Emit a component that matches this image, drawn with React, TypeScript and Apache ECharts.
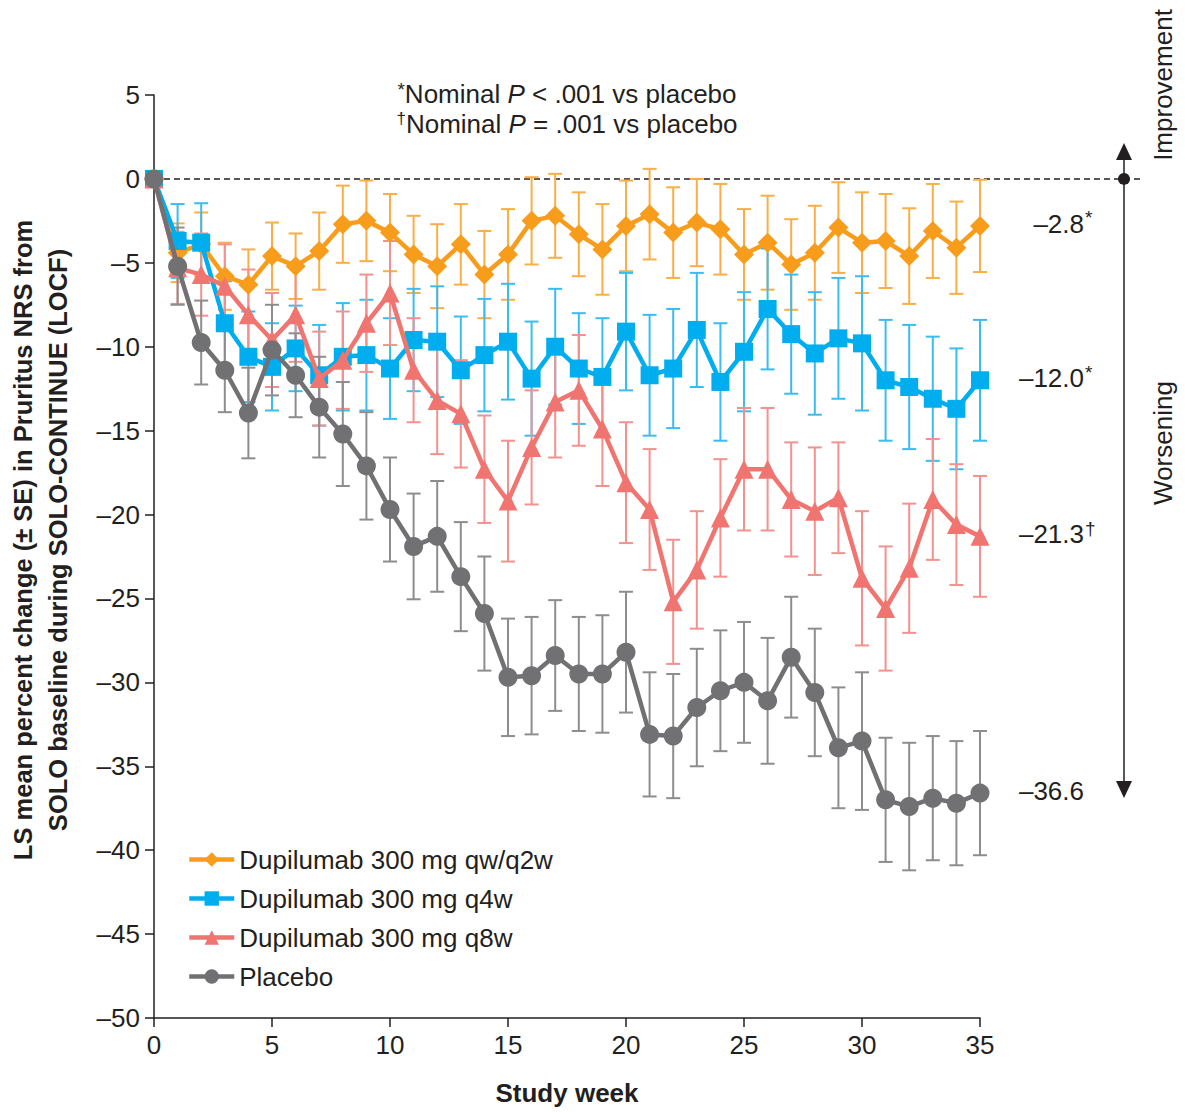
import React, { useEffect, useRef } from 'react';
import * as echarts from 'echarts';

const weeks = [0, 1, 2, 3, 4, 5, 6, 7, 8, 9, 10, 11, 12, 13, 14, 15, 16, 17, 18, 19, 20, 21, 22, 23, 24, 25, 26, 27, 28, 29, 30, 31, 32, 33, 34, 35];

const q2wMean = [0, -4.4, -3.9, -5.8, -6.3, -4.6, -5.2, -4.3, -2.7, -2.5, -3.2, -4.5, -5.2, -3.9, -5.7, -4.5, -2.5, -2.2, -3.3, -4.2, -2.8, -2.1, -3.2, -2.6, -3.0, -4.5, -3.8, -5.1, -4.4, -2.9, -3.8, -3.7, -4.6, -3.1, -4.1, -2.8];
const q2wSE = [0, 1.75, 1.9, 2.0, 2.1, 2.0, 1.95, 2.3, 2.3, 2.4, 2.3, 2.3, 2.5, 2.4, 2.6, 2.7, 2.6, 2.5, 2.5, 2.7, 2.7, 2.7, 2.7, 2.6, 2.7, 2.7, 2.8, 2.7, 2.8, 2.7, 3.0, 2.8, 2.85, 2.8, 2.75, 2.75];

const q4wMean = [0, -3.7, -3.8, -8.6, -10.6, -11.2, -10.1, -11.7, -10.6, -10.5, -11.3, -9.6, -9.7, -11.4, -10.5, -9.7, -11.9, -10.0, -11.3, -11.8, -9.1, -11.7, -11.3, -9.0, -12.1, -10.3, -7.75, -9.25, -10.4, -9.5, -9.8, -12.0, -12.4, -13.1, -13.7, -12.0];
const q4wSE = [0, 2.2, 2.35, 2.5, 2.7, 2.6, 2.55, 3.0, 3.2, 3.3, 3.0, 3.05, 3.3, 3.2, 3.35, 3.45, 3.4, 3.45, 3.3, 3.5, 3.5, 3.6, 3.55, 3.4, 3.5, 3.55, 3.6, 3.55, 3.65, 3.6, 4.0, 3.6, 3.7, 3.7, 3.6, 3.6];

const q8wMean = [0, -5.3, -5.7, -6.4, -8.1, -9.6, -8.1, -11.9, -10.8, -8.6, -6.8, -11.4, -13.2, -14.0, -17.3, -19.2, -16.0, -13.3, -12.6, -14.9, -18.1, -19.7, -25.2, -23.3, -20.2, -17.3, -17.3, -19.1, -19.8, -19.0, -23.8, -25.6, -23.2, -19.1, -20.6, -21.3];
const q8wSE = [0, 2.15, 2.45, 2.5, 2.7, 2.8, 2.8, 2.8, 2.9, 2.9, 3.1, 3.1, 3.2, 3.2, 3.2, 3.6, 3.4, 3.3, 3.3, 3.4, 3.6, 3.6, 3.7, 3.5, 3.5, 3.65, 3.65, 3.4, 3.8, 3.3, 4.0, 3.7, 3.85, 3.6, 3.6, 3.6];

const placeboMean = [0, -5.2, -9.75, -11.4, -13.95, -10.2, -11.7, -13.6, -15.2, -17.1, -19.7, -21.9, -21.3, -23.7, -25.9, -29.7, -29.6, -28.4, -29.5, -29.5, -28.2, -33.1, -33.2, -31.5, -30.5, -30.0, -31.1, -28.5, -30.6, -33.9, -33.5, -37.0, -37.4, -36.9, -37.2, -36.6];
const placeboSE = [0, 2.3, 2.5, 2.5, 2.7, 2.7, 2.5, 3.0, 3.1, 3.2, 3.1, 3.15, 3.3, 3.25, 3.4, 3.5, 3.5, 3.3, 3.4, 3.5, 3.6, 3.7, 3.7, 3.5, 3.6, 3.6, 3.75, 3.6, 3.8, 3.6, 4.1, 3.7, 3.8, 3.7, 3.7, 3.7];

const seriesNames = ['Dupilumab 300 mg qw/q2w', 'Dupilumab 300 mg q4w', 'Dupilumab 300 mg q8w', 'Placebo'];
const means = [q2wMean, q4wMean, q8wMean, placeboMean];
const ses = [q2wSE, q4wSE, q8wSE, placeboSE];
const lineColors = ['#F89C1C', '#00AEEF', '#F07570', '#717173'];
const barColors = ['#FAAE45', '#3BBCF0', '#F4918C', '#8D8D8F'];
const symbols = ['diamond', 'rect', 'triangle', 'circle'];
const symbolSizes = [20, 18, 19, 19];
const lineZ = [3, 4, 5, 6];
const endValueLabels = ['\u20132.8', '\u201312.0', '\u201321.3', '\u201336.6'];
const endMarks = ['*', '*', '\u2020', ''];

const yTitle = 'LS mean percent change (\u00B1 SE) in Pruritus NRS from\nSOLO baseline during SOLO-CONTINUE (LOCF)';
const xTitle = 'Study week';

const FONT = 'Arial, "Liberation Sans", Helvetica, sans-serif';
const INK = '#231F20';

export default function App() {
  const ref = useRef<HTMLDivElement>(null);

  useEffect(() => {
    if (!ref.current) return;
    const chart = echarts.init(ref.current, undefined, { renderer: 'svg' });

    const lineSeries = seriesNames.map((name, k) => ({
      type: 'line',
      name,
      data: weeks.map((w, i) => [w, means[k][i]]),
      symbol: symbols[k],
      symbolSize: symbolSizes[k],
      showAllSymbol: true,
      lineStyle: { width: 4.5, color: lineColors[k] },
      itemStyle: { color: lineColors[k] },
      z: lineZ[k],
      silent: true,
    }));

    const errSeries = seriesNames.map((name, k) => ({
      type: 'custom',
      name: 'se' + k,
      data: weeks.map((w, i) => [w, means[k][i] - ses[k][i], means[k][i] + ses[k][i]]),
      encode: { x: 0, y: [1, 2] },
      z: 2,
      silent: true,
      renderItem: (params: any, api: any) => {
        const x = api.value(0);
        const lo = api.value(1);
        const hi = api.value(2);
        if (hi - lo <= 0) return { type: 'group', children: [] };
        const p1 = api.coord([x, hi]);
        const p2 = api.coord([x, lo]);
        const style = { stroke: barColors[k], lineWidth: 2 };
        const cap = 7;
        return {
          type: 'group',
          children: [
            { type: 'line', shape: { x1: p1[0], y1: p1[1], x2: p2[0], y2: p2[1] }, style },
            { type: 'line', shape: { x1: p1[0] - cap, y1: p1[1], x2: p1[0] + cap, y2: p1[1] }, style },
            { type: 'line', shape: { x1: p2[0] - cap, y1: p2[1], x2: p2[0] + cap, y2: p2[1] }, style },
          ],
        };
      },
    }));

    chart.setOption({
      animation: false,
      backgroundColor: '#ffffff',
      textStyle: { fontFamily: FONT, color: INK },
      grid: { left: 154, right: 205, top: 95, bottom: 94, containLabel: false },
      legend: {
        data: seriesNames,
        orient: 'vertical',
        left: 182,
        top: 841,
        itemWidth: 45,
        itemHeight: 18,
        itemGap: 12,
        lineStyle: { width: 4.5 },
        textStyle: { fontSize: 26, color: INK, fontFamily: FONT, lineHeight: 27 },
        selectedMode: false,
      },
      xAxis: {
        type: 'value',
        min: 0,
        max: 35,
        interval: 5,
        name: xTitle,
        nameLocation: 'middle',
        nameGap: 62,
        nameTextStyle: { fontSize: 26, fontWeight: 'bold', color: INK, fontFamily: FONT },
        axisLine: { show: true, onZero: false, lineStyle: { color: INK, width: 1.5 } },
        axisTick: { show: true, length: 9, lineStyle: { color: INK, width: 1.5 } },
        axisLabel: { fontSize: 26, color: INK, margin: 14, fontFamily: FONT },
        splitLine: { show: false },
      },
      yAxis: {
        type: 'value',
        min: -50,
        max: 5,
        interval: 5,
        axisLine: { show: true, onZero: false, lineStyle: { color: INK, width: 1.5 } },
        axisTick: { show: true, length: 9, lineStyle: { color: INK, width: 1.5 } },
        axisLabel: {
          fontSize: 26,
          color: INK,
          margin: 14,
          fontFamily: FONT,
          formatter: (v: number) => (v < 0 ? '\u2013' + Math.abs(v) : String(v)),
        },
        splitLine: { show: false },
      },
      series: [...errSeries, ...lineSeries],
    });

    const zero = chart.convertToPixel({ gridIndex: 0 }, [0, 0]) as number[];
    const endPts = means.map((m) => chart.convertToPixel({ gridIndex: 0 }, [weeks[weeks.length - 1], m[m.length - 1]]) as number[]);

    const graphics: any[] = [
      {
        type: 'line',
        shape: { x1: zero[0], y1: zero[1], x2: 1140, y2: zero[1] },
        style: { stroke: INK, lineWidth: 1.5, lineDash: [6, 4] },
        z: 1,
      },
      {
        type: 'line',
        shape: { x1: 1124, y1: 156, x2: 1124, y2: 786 },
        style: { stroke: INK, lineWidth: 1.5 },
      },
      {
        type: 'polygon',
        shape: { points: [[1124, 143], [1116, 160], [1132, 160]] },
        style: { fill: INK },
      },
      {
        type: 'polygon',
        shape: { points: [[1124, 798], [1116, 781], [1132, 781]] },
        style: { fill: INK },
      },
      {
        type: 'circle',
        shape: { cx: 1124, cy: zero[1], r: 6 },
        style: { fill: INK },
      },
      {
        type: 'text',
        x: 1163,
        y: 85,
        rotation: Math.PI / 2,
        style: { text: 'Improvement', fontSize: 26, fontFamily: FONT, fill: INK, align: 'center', verticalAlign: 'middle' },
      },
      {
        type: 'text',
        x: 1163,
        y: 443,
        rotation: Math.PI / 2,
        style: { text: 'Worsening', fontSize: 26, fontFamily: FONT, fill: INK, align: 'center', verticalAlign: 'middle' },
      },
      {
        type: 'text',
        x: 40,
        y: 540,
        rotation: Math.PI / 2,
        style: {
          text: yTitle,
          fontSize: 25.5,
          fontWeight: 'bold',
          fontFamily: FONT,
          fill: INK,
          align: 'center',
          verticalAlign: 'middle',
          lineHeight: 35,
        },
      },
      {
        type: 'text',
        x: 567,
        y: 94,
        style: {
          text: '{s|*}{n|Nominal }{i|P}{n| < .001 vs placebo}',
          align: 'center',
          verticalAlign: 'middle',
          fontFamily: FONT,
          fill: INK,
          rich: {
            s: { fontSize: 19, verticalAlign: 'top', lineHeight: 28, fill: INK, fontFamily: FONT },
            n: { fontSize: 26, lineHeight: 28, fill: INK, fontFamily: FONT },
            i: { fontSize: 26, lineHeight: 28, fontStyle: 'italic', fill: INK, fontFamily: FONT },
          },
        },
      },
      {
        type: 'text',
        x: 567,
        y: 124,
        style: {
          text: '{s|\u2020}{n|Nominal }{i|P}{n| = .001 vs placebo}',
          align: 'center',
          verticalAlign: 'middle',
          fontFamily: FONT,
          fill: INK,
          rich: {
            s: { fontSize: 17, verticalAlign: 'top', lineHeight: 28, fill: INK, fontFamily: FONT },
            n: { fontSize: 26, lineHeight: 28, fill: INK, fontFamily: FONT },
            i: { fontSize: 26, lineHeight: 28, fontStyle: 'italic', fill: INK, fontFamily: FONT },
          },
        },
      },
    ];

    endPts.forEach((p, k) => {
      graphics.push({
        type: 'text',
        x: 1084,
        y: p[1] - 2,
        style: { text: endValueLabels[k], fontSize: 26, fontFamily: FONT, fill: INK, align: 'right', verticalAlign: 'middle' },
      });
      if (endMarks[k]) {
        graphics.push({
          type: 'text',
          x: 1085,
          y: p[1] - 8,
          style: { text: endMarks[k], fontSize: 19, fontFamily: FONT, fill: INK, align: 'left', verticalAlign: 'middle' },
        });
      }
    });

    chart.setOption({ graphic: graphics });

    return () => {
      chart.dispose();
    };
  }, []);

  return (
    <div
      ref={ref}
      style={{ position: 'absolute', left: 0, top: 0, width: 1185, height: 1112, background: '#fff' }}
    />
  );
}
